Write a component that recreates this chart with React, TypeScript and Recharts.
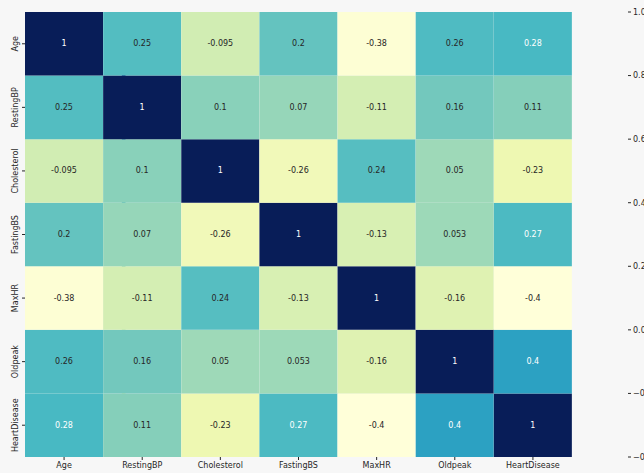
import { BarChart, Bar, XAxis, YAxis, Cell, LabelList, ReferenceArea } from "recharts";

const LABELS = ["Age", "RestingBP", "Cholesterol", "FastingBS", "MaxHR", "Oldpeak", "HeartDisease"];

const AGE = [1, 0.25, -0.095, 0.2, -0.38, 0.26, 0.28];
const RESTING_BP = [0.25, 1, 0.1, 0.07, -0.11, 0.16, 0.11];
const CHOLESTEROL = [-0.095, 0.1, 1, -0.26, 0.24, 0.05, -0.23];
const FASTING_BS = [0.2, 0.07, -0.26, 1, -0.13, 0.053, 0.27];
const MAX_HR = [-0.38, -0.11, 0.24, -0.13, 1, -0.16, -0.4];
const OLDPEAK = [0.26, 0.16, 0.05, 0.053, -0.16, 1, 0.4];
const HEART_DISEASE = [0.28, 0.11, -0.23, 0.27, -0.4, 0.4, 1];

const MATRIX = [AGE, RESTING_BP, CHOLESTEROL, FASTING_BS, MAX_HR, OLDPEAK, HEART_DISEASE];

const CB_TICKS = [-0.4, -0.2, 0, 0.2, 0.4, 0.6, 0.8, 1.0];
const VMIN = -0.4;
const VMAX = 1;

// colorbrewer YlGnBu (matplotlib)
const YLGNBU = ["#ffffd9", "#edf8b1", "#c7e9b4", "#7fcdbb", "#41b6c4", "#1d91c0", "#225ea8", "#253494", "#081d58"];

const hexToRgb = (h: string) => [1, 3, 5].map((i) => parseInt(h.slice(i, i + 2), 16));

function cmap(v: number): number[] {
  const t = Math.min(1, Math.max(0, (v - VMIN) / (VMAX - VMIN))) * (YLGNBU.length - 1);
  const i = Math.min(YLGNBU.length - 2, Math.floor(t));
  const f = t - i;
  const a = hexToRgb(YLGNBU[i]);
  const b = hexToRgb(YLGNBU[i + 1]);
  return a.map((x, k) => x + (b[k] - x) * f);
}

const toCss = (rgb: number[]) => `rgb(${rgb.map((x) => Math.round(x)).join(",")})`;

function textColor(rgb: number[]) {
  const lin = rgb.map((c) => {
    const s = c / 255;
    return s <= 0.03928 ? s / 12.92 : Math.pow((s + 0.055) / 1.055, 2.4);
  });
  const l = 0.2126 * lin[0] + 0.7152 * lin[1] + 0.0722 * lin[2];
  return l > 0.408 ? "#262626" : "#ffffff";
}

const fmt = (v: number) => String(Number(v.toPrecision(2)));

// one entry per column, each row is a stacked unit cell
const heatData = LABELS.map((name) => {
  const d: Record<string, any> = { name };
  LABELS.forEach((_, r) => (d[`r${r}`] = 1));
  return d;
});

const FONT = "DejaVu Sans, sans-serif";
const INK = "#262626";

// colorbar sits right of the heatmap; plot width = 547px, bar from 606 to 628
const PLOT_W = 547;
const CB_X1 = (606 - 25) / PLOT_W;
const CB_X2 = (628 - 25) / PLOT_W;

const cellLabel = (r: number) => (props: any) => {
  const box = props.viewBox ?? props;
  const { x, y, width, height } = box;
  const c = props.index;
  const v = MATRIX[r][c];
  return (
    <text
      x={x + width / 2}
      y={y + height / 2}
      textAnchor="middle"
      dominantBaseline="central"
      fontSize={8}
      fontFamily={FONT}
      fill={textColor(cmap(v))}
    >
      {fmt(v)}
    </text>
  );
};

const YTick = (props: any) => {
  const { y, payload } = props;
  const name = LABELS[LABELS.length - 1 - Math.floor(payload.value)];
  return (
    <g transform={`translate(18,${y})`}>
      <text transform="rotate(-90)" textAnchor="middle" fontSize={8} fontFamily={FONT} fill={INK}>
        {name}
      </text>
    </g>
  );
};

const CbTick = (props: any) => {
  const { y, payload } = props;
  const label = payload.value.toFixed(1).replace("-", "\u2212");
  return (
    <g>
      <line x1={628} x2={631} y1={y} y2={y} stroke={INK} />
      <text x={633} y={y} dy="0.35em" fontSize={8} fontFamily={FONT} fill={INK}>
        {label}
      </text>
    </g>
  );
};

export default function App() {
  const rowOrder = LABELS.map((_, i) => LABELS.length - 1 - i);
  return (
    <div
      style={{
        position: "absolute",
        left: 0,
        top: 0,
        width: 644,
        height: 473,
        background: "#f7f7f7",
        overflow: "hidden",
        fontFamily: FONT,
      }}
    >
      <BarChart
        width={644}
        height={473}
        data={heatData}
        margin={{ top: 12, right: 0, left: 0, bottom: 0 }}
        barCategoryGap={0}
      >
        <defs>
          <linearGradient id="cbGrad" x1="0" y1="1" x2="0" y2="0">
            {YLGNBU.map((c, i) => (
              <stop key={i} offset={i / (YLGNBU.length - 1)} stopColor={c} />
            ))}
          </linearGradient>
        </defs>
        <XAxis
          dataKey="name"
          height={16}
          interval={0}
          axisLine={false}
          tickSize={3}
          tickLine={{ stroke: INK }}
          tick={{ fontSize: 8, fill: INK, fontFamily: FONT }}
        />
        <XAxis xAxisId="cb" type="number" domain={[0, 1]} allowDataOverflow hide />
        <YAxis
          type="number"
          width={25}
          domain={[0, LABELS.length]}
          ticks={LABELS.map((_, i) => i + 0.5)}
          axisLine={false}
          tickSize={3}
          tickLine={{ stroke: INK }}
          tick={<YTick />}
        />
        <YAxis
          yAxisId="cb"
          orientation="right"
          type="number"
          width={72}
          domain={[VMIN, VMAX]}
          allowDataOverflow
          ticks={CB_TICKS}
          axisLine={false}
          tickLine={false}
          tick={<CbTick />}
        />
        {rowOrder.map((r) => (
          <Bar key={r} dataKey={`r${r}`} stackId="a" isAnimationActive={false}>
            {LABELS.map((_, c) => (
              <Cell key={c} fill={toCss(cmap(MATRIX[r][c]))} />
            ))}
            <LabelList dataKey={`r${r}`} content={cellLabel(r)} />
          </Bar>
        ))}
        <ReferenceArea
          xAxisId="cb"
          yAxisId="cb"
          x1={CB_X1}
          x2={CB_X2}
          y1={VMIN}
          y2={VMAX}
          fill="url(#cbGrad)"
          fillOpacity={1}
          stroke="none"
          ifOverflow="visible"
        />
      </BarChart>
    </div>
  );
}
